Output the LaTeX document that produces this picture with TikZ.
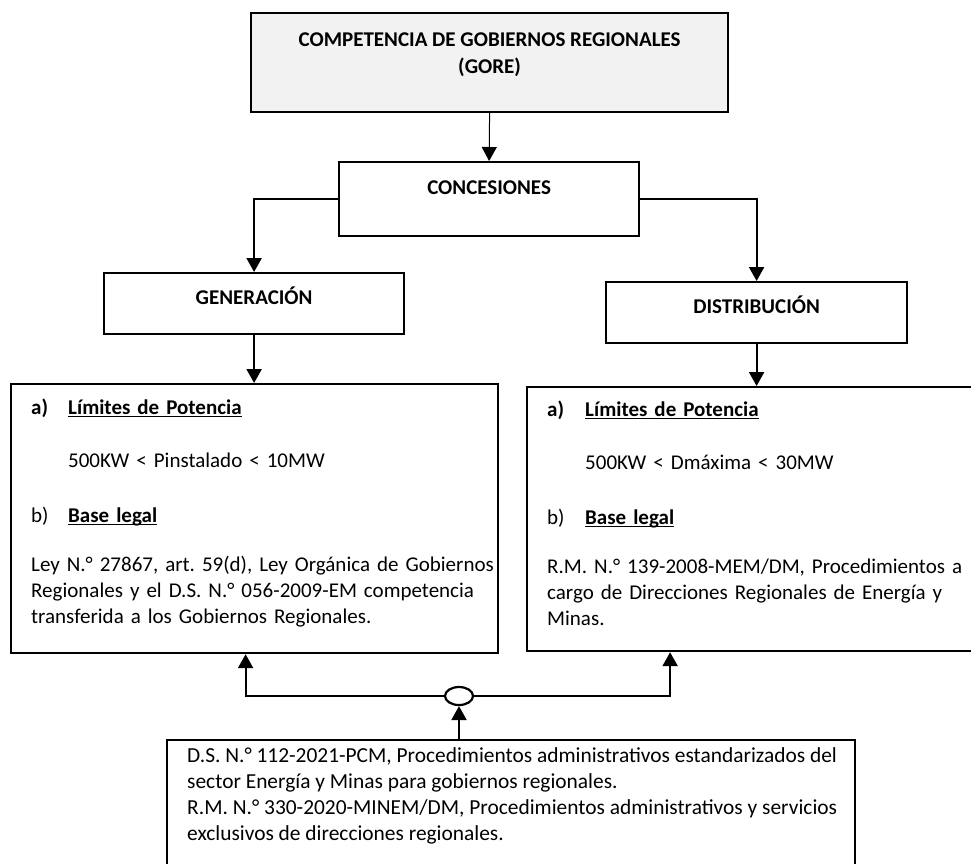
\documentclass[tikz,border=0pt]{standalone}
\usepackage{fontspec}
\setmainfont{Carlito}
\usetikzlibrary{arrows.meta, positioning, shapes.geometric, calc}
\newcommand{\fullline}[1]{\makebox[\hsize][s]{#1}}
\newcommand{\uln}[1]{$\underline{\smash{\hbox{#1}}}$}
\frenchspacing

\begin{document}
\begin{tikzpicture}[
    x=1pt, y=-1pt,
    box/.style={draw, line width=2.2pt, anchor=north west, inner sep=0pt},
    head/.style={font=\fontsize{21}{27}\selectfont\bfseries, inner sep=0pt, text height=15pt, text depth=5pt},
    body/.style={font=\fontsize{21}{26}\selectfont, inner sep=0pt, anchor=north west, align=left},
    link/.style={line width=2.2pt, -{Triangle[width=15pt,length=14pt]}},
]
\path[use as bounding box] (0,0) rectangle (971,863);
\clip (0,0) rectangle (971,863);

% Boxes
\node[box, fill=gray!10, minimum width=477pt, minimum height=99pt] (gore) at (250,12) {};
\node[box, minimum width=300pt, minimum height=74pt] (conc) at (338,161) {};
\node[box, minimum width=300pt, minimum height=61pt] (gen) at (103,272) {};
\node[box, minimum width=301pt, minimum height=61pt] (dist) at (605,281) {};
\node[box, minimum width=487pt, minimum height=269pt] (genbox) at (10,383) {};
\node[box, minimum width=460pt, minimum height=264pt] (distbox) at (526,386) {};
\node[box, minimum width=688pt, minimum height=150pt] (legal) at (166,739) {};
\node[draw, ellipse, line width=2.2pt, minimum width=28pt, minimum height=18pt, inner sep=0pt] (junc) at (459,696) {};

% Titles
\node[font=\fontsize{21}{27}\selectfont\bfseries, align=center, inner sep=0pt, below=21pt of gore.north] (goretxt) {COMPETENCIA DE GOBIERNOS REGIONALES\\(GORE)};
\node[head, below=18pt of conc.north] (conctxt) {CONCESIONES};
\node[head, below=17pt of gen.north] (gentxt) {GENERACIÓN};
\node[head, below=17pt of dist.north] (disttxt) {DISTRIBUCIÓN};

% Contents
\node[body, text width=444pt] (genlist) at ([xshift=21pt, yshift=-16pt]genbox.north west) {%
\makebox[37pt][l]{\textbf{a)}}\textbf{\uln{Límites de Potencia}}\\[27pt]
\hspace*{37pt}500KW < Pinstalado < 10MW\\[29pt]
\makebox[37pt][l]{b)}\textbf{\uln{Base legal}}\\[23pt]
\fullline{Ley N.° 27867, art. 59(d), Ley Orgánica de Gobiernos}\\
\fullline{Regionales y el D.S. N.° 056-2009-EM competencia}\\
transferida a los Gobiernos Regionales.};
\node[body, text width=416pt] (distlist) at ([xshift=21pt, yshift=-15pt]distbox.north west) {%
\makebox[38pt][l]{\textbf{a)}}\textbf{\uln{Límites de Potencia}}\\[27pt]
\hspace*{38pt}500KW < Dmáxima < 30MW\\[29pt]
\makebox[38pt][l]{b)}\textbf{\uln{Base legal}}\\[23pt]
\fullline{R.M. N.° 139-2008-MEM/DM, Procedimientos a}\\
\fullline{cargo de Direcciones Regionales de Energía y}\\
Minas.};
\node[body, font=\fontsize{21.4}{26}\selectfont] (legallist) at ([xshift=21pt, yshift=-8pt]legal.north west) {%
D.S. N.° 112-2021-PCM, Procedimientos administrativos estandarizados del\\
sector Energía y Minas para gobiernos regionales.\\
R.M. N.° 330-2020-MINEM/DM, Procedimientos administrativos y servicios\\
exclusivos de direcciones regionales.};

% Connectors
\draw[line width=1pt, -{Triangle[width=15pt,length=14pt]}] (gore.south) -- (conc.north);
\draw[link] (conc.west) -| (gen.north);
\draw[link] (conc.east) -| (dist.north);
\draw[link] (gen.south) -- (gen.south |- genbox.north);
\draw[link] (dist.south) -- (dist.south |- distbox.north);
\draw[link] (junc.west) -| ([xshift=-9pt]genbox.south);
\draw[link] (junc.east) -| ([xshift=-87pt]distbox.south);
\draw[link] (legal.north -| junc.south) -- (junc.south);

\end{tikzpicture}
\end{document}
